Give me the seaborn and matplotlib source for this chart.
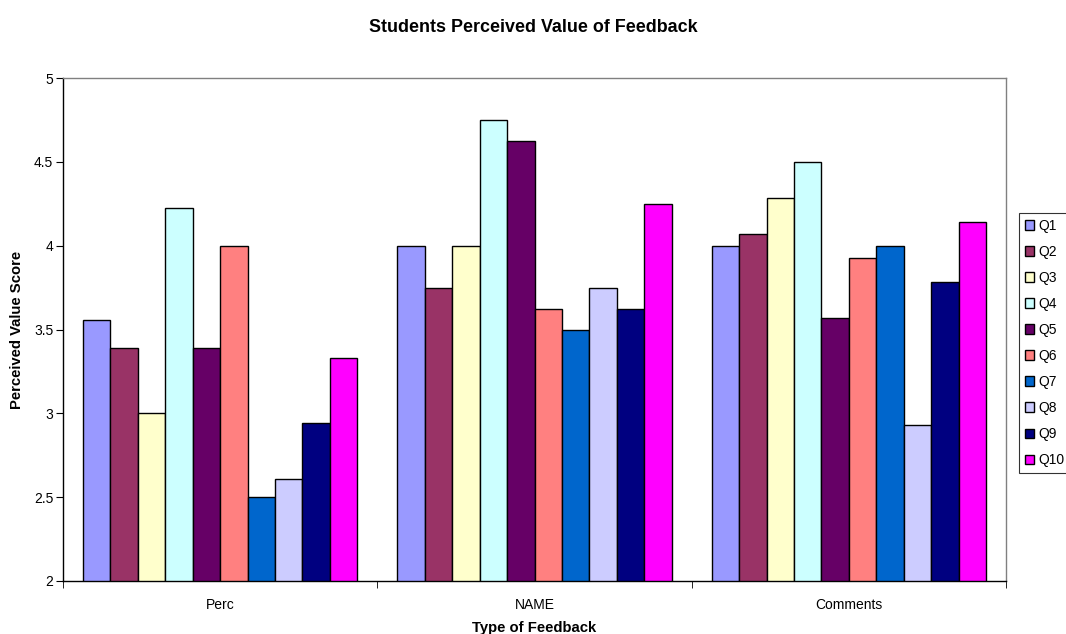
import pandas as pd
import numpy as np
import matplotlib
matplotlib.use('Agg')
import matplotlib.pyplot as plt
import seaborn as sns

tipos = ['Perc', 'NAME', 'Comments']
preguntas = ['Q1', 'Q2', 'Q3', 'Q4', 'Q5', 'Q6', 'Q7', 'Q8', 'Q9', 'Q10']

perc = [3.556, 3.389, 3.0, 4.222, 3.389, 4.0, 2.5, 2.611, 2.944, 3.333]
name = [4.0, 3.75, 4.0, 4.75, 4.625, 3.625, 3.5, 3.75, 3.625, 4.25]
comments = [4.0, 4.071, 4.286, 4.5, 3.571, 3.929, 4.0, 2.929, 3.786, 4.143]

colores = ['#9999FF', '#993366', '#FFFFCC', '#CCFFFF', '#660066',
           '#FF8080', '#0066CC', '#CCCCFF', '#000080', '#FF00FF']

filas = []
for tipo, vals in zip(tipos, [perc, name, comments]):
    for q, v in zip(preguntas, vals):
        filas.append({'tipo': tipo, 'pregunta': q, 'valor': v})
df = pd.DataFrame(filas)

sns.set_style('white')
plt.rcParams['font.family'] = ['Liberation Sans', 'DejaVu Sans']
plt.rcParams['text.color'] = 'black'
plt.rcParams['axes.labelcolor'] = 'black'
plt.rcParams['xtick.color'] = 'black'
plt.rcParams['ytick.color'] = 'black'

fig = plt.figure(figsize=(10.66, 6.34), dpi=100)
ax = fig.add_axes([63/1066, 53/634, 943/1066, 503/634])

sns.barplot(data=df, x='tipo', y='valor', hue='pregunta', order=tipos,
            hue_order=preguntas, palette=colores, width=0.873, gap=0,
            edgecolor='black', linewidth=1, saturation=1, ax=ax, errorbar=None)

ax.set_ylim(2, 5)
ax.set_xlim(-0.5, 2.5)
ax.set_yticks(np.arange(2, 5.01, 0.5))
ax.set_yticklabels(['2', '2.5', '3', '3.5', '4', '4.5', '5'])
ax.set_xticks([0, 1, 2])
ax.set_xticklabels(tipos)
ax.set_xticks([-0.5, 0.5, 1.5, 2.5], minor=True)
ax.tick_params(axis='x', which='major', length=0, labelsize=10, pad=12)
ax.tick_params(axis='x', which='minor', length=5, color='black', direction='out', bottom=True)
ax.tick_params(axis='y', length=5, color='black', direction='out', left=True, labelsize=10, pad=2)

for s in ['top', 'right']:
    ax.spines[s].set_color('#808080')
    ax.spines[s].set_linewidth(1)
for s in ['left', 'bottom']:
    ax.spines[s].set_color('black')
    ax.spines[s].set_linewidth(1)

ax.set_xlabel('Type of Feedback', fontsize=10.7, fontweight='bold', labelpad=7)
ax.set_ylabel('Perceived Value Score', fontsize=10.7, fontweight='bold', labelpad=7)
fig.text(0.5, 1 - 27/634, 'Students Perceived Value of Feedback', ha='center',
         va='center', fontsize=12.9, fontweight='bold')

handles, labels = ax.get_legend_handles_labels()
ax.legend(handles, labels, loc='upper left', bbox_to_anchor=(1019/1066, 1 - 213/634),
          bbox_transform=fig.transFigure, fontsize=10, frameon=True, fancybox=False,
          edgecolor='black', handlelength=0.7, handleheight=0.7, handletextpad=0.3,
          labelspacing=0.87, borderpad=0.4, borderaxespad=0)
ax.get_legend().get_frame().set_linewidth(0.8)

fig.savefig('out.png', dpi=100)
